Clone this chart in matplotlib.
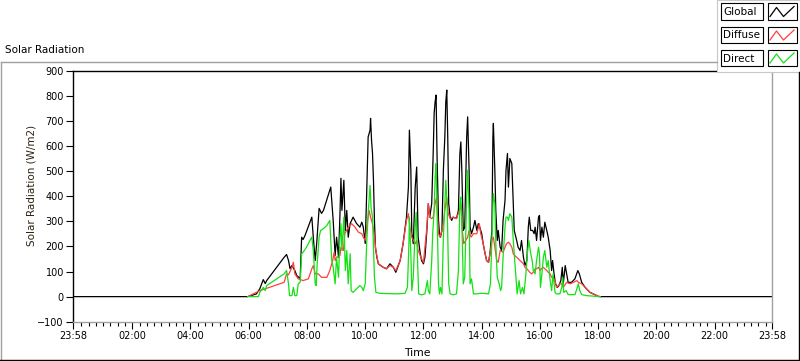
"""
Solar radiation day plot (Global / Diffuse / Direct), LabVIEW-chart look.
Saves out.png at 800x361.
"""

import matplotlib
matplotlib.use("Agg")
import matplotlib.pyplot as plt
from matplotlib.lines import Line2D
from matplotlib.patches import Rectangle

# ── Figure ────────────────────────────────────────────────────────────────
W_PX, H_PX, DPI = 800, 361, 100
FONT = "DejaVu Sans"
FS_TICK = 7.0
FS_TEXT = 7.45
LABEL_COLOR = "#2b2212"

# ── Data: minutes after midnight, W/m2 ────────────────────────────────────
GLOBAL_MIN = [-2, 358, 376, 383, 390, 394, 397, 433, 438, 442, 445, 449, 455, 459,
              466, 469, 472, 476, 486, 490, 493, 497, 500, 505, 510, 514, 529, 531,
              534, 538, 541, 545, 548, 550, 552, 556, 559, 562, 565, 569, 575, 582,
              589, 593, 596, 600, 603, 606, 610, 611, 613, 615, 617, 619, 621, 624,
              627, 637, 644, 651, 658, 663, 672, 678, 685, 689, 691, 694, 696, 699,
              703, 706, 709, 713, 716, 720, 723, 727, 730, 733, 737, 740, 742, 744,
              746, 748, 751, 753, 755, 758, 761, 764, 766, 768, 770, 772, 775, 778,
              781, 788, 792, 795, 797, 799, 802, 805, 809, 811, 814, 816, 819, 823,
              826, 830, 833, 836, 840, 843, 847, 850, 854, 857, 861, 863, 864, 867,
              869, 872, 874, 878, 881, 884, 888, 890, 893, 895, 898, 902, 905, 907,
              912, 915, 919, 922, 926, 929, 933, 936, 938, 941, 945, 948, 950, 953,
              957, 959, 961, 964, 967, 970, 974, 977, 981, 984, 986, 989, 992, 996,
              999, 1003, 1006, 1008, 1012, 1015, 1018, 1025, 1032, 1038, 1041, 1046,
              1053, 1063, 1073, 1080, 1084, 1438]
GLOBAL_WM2 = [0, 0, 11, 32, 68, 52, 64, 157, 168, 144, 112, 124, 104, 84,
              72, 237, 228, 244, 297, 317, 237, 144, 212, 352, 332, 344, 437, 384,
              304, 164, 237, 157, 332, 472, 344, 464, 264, 344, 237, 292, 317, 292,
              277, 297, 277, 212, 412, 637, 664, 711, 624, 572, 464, 304, 197, 157,
              131, 117, 111, 131, 117, 97, 144, 211, 317, 437, 664, 504, 252, 211,
              437, 517, 237, 177, 144, 131, 157, 264, 371, 317, 372, 571, 731, 777,
              804, 557, 304, 251, 237, 264, 504, 637, 777, 824, 637, 371, 317, 304,
              317, 312, 344, 571, 617, 504, 264, 277, 637, 717, 504, 277, 251, 277,
              304, 264, 291, 277, 251, 211, 171, 144, 137, 171, 264, 637, 691, 504,
              344, 224, 264, 197, 184, 304, 384, 504, 571, 437, 551, 531, 371, 264,
              224, 197, 184, 224, 157, 124, 144, 277, 317, 264, 264, 251, 277, 224,
              317, 324, 224, 277, 237, 297, 264, 237, 184, 104, 144, 91, 51, 37,
              44, 64, 117, 51, 124, 91, 57, 57, 71, 104, 91, 57,
              37, 17, 8, 1, 0, 0]

DIFFUSE_MIN = [358, 383, 433, 438, 442, 449, 452, 455, 462, 472, 483, 490, 493, 497,
               503, 510, 521, 527, 533, 536, 538, 541, 548, 550, 555, 558, 565, 572,
               579, 586, 593, 596, 600, 603, 608, 611, 615, 619, 622, 627, 637, 644,
               651, 658, 663, 672, 678, 685, 689, 692, 696, 703, 706, 709, 716, 720,
               727, 730, 733, 737, 740, 744, 747, 751, 754, 758, 761, 764, 768, 771,
               775, 781, 788, 794, 797, 800, 803, 807, 811, 814, 818, 823, 830, 835,
               838, 843, 850, 854, 857, 861, 864, 867, 871, 874, 878, 884, 891, 895,
               898, 902, 905, 908, 912, 919, 926, 929, 933, 936, 939, 943, 946, 950,
               953, 957, 960, 963, 967, 970, 974, 977, 981, 984, 987, 991, 994, 998,
               1001, 1005, 1008, 1015, 1022, 1029, 1036, 1039, 1046, 1053, 1063, 1073,
               1080, 1084]
DIFFUSE_WM2 = [0, 24, 57, 91, 87, 117, 137, 91, 71, 64, 71, 111, 124, 91,
               91, 77, 77, 104, 144, 177, 144, 157, 164, 197, 184, 251, 277, 291,
               277, 257, 251, 237, 224, 277, 344, 317, 291, 237, 184, 131, 117, 111,
               124, 117, 104, 144, 211, 304, 331, 277, 237, 211, 224, 184, 151, 137,
               277, 371, 317, 311, 317, 371, 397, 251, 237, 264, 291, 344, 397, 331,
               311, 317, 311, 344, 371, 264, 211, 224, 237, 264, 237, 251, 251, 291,
               251, 211, 144, 137, 171, 224, 237, 197, 144, 137, 184, 177, 211, 217,
               211, 197, 171, 164, 157, 144, 131, 117, 111, 104, 97, 91, 97, 111,
               111, 117, 104, 111, 117, 111, 104, 97, 91, 77, 77, 64, 37, 44,
               51, 51, 37, 57, 51, 57, 64, 57, 51, 37, 17, 8,
               1, 0]

DIRECT_MIN = [358, 380, 383, 390, 394, 397, 433, 438, 442, 444, 449, 452, 455, 459,
              462, 466, 469, 472, 479, 486, 490, 493, 497, 499, 501, 505, 508, 514,
              521, 527, 531, 534, 538, 541, 545, 548, 550, 552, 556, 559, 562, 565,
              569, 571, 575, 582, 589, 593, 596, 600, 603, 606, 610, 612, 615, 617,
              619, 622, 630, 665, 682, 687, 690, 691, 694, 696, 699, 703, 705, 707,
              710, 716, 723, 728, 730, 733, 737, 739, 742, 744, 746, 748, 751, 753,
              755, 758, 761, 764, 766, 769, 772, 775, 781, 788, 792, 795, 797, 799,
              802, 805, 809, 811, 814, 816, 819, 823, 830, 836, 843, 854, 858, 861,
              864, 867, 869, 872, 876, 879, 881, 884, 888, 890, 893, 895, 898, 902,
              905, 908, 911, 913, 917, 920, 924, 927, 931, 934, 937, 941, 944, 946,
              950, 953, 957, 959, 961, 964, 967, 970, 974, 977, 981, 984, 987, 991,
              994, 1001, 1005, 1007, 1009, 1014, 1018, 1032, 1036, 1039, 1042, 1046,
              1056, 1077, 1084]
DIRECT_WM2 = [0, 0, 17, 37, 24, 44, 91, 104, 51, 4, 4, 37, 4, 4,
              51, 57, 171, 177, 197, 224, 237, 184, 51, 44, 131, 237, 264, 271,
              284, 304, 144, 117, 51, 157, 77, 237, 291, 184, 317, 104, 184, 51,
              171, 24, 17, 31, 44, 37, 24, 51, 211, 331, 444, 357, 317, 197,
              77, 17, 13, 11, 13, 37, 211, 317, 171, 24, 77, 277, 337, 197,
              11, 7, 11, 64, 24, 11, 144, 251, 344, 477, 531, 344, 51, 11,
              37, 11, 237, 371, 464, 344, 51, 11, 7, 11, 104, 371, 397, 304,
              51, 77, 397, 504, 344, 51, 71, 11, 11, 13, 13, 11, 51, 237,
              411, 371, 211, 77, 51, 24, 37, 157, 277, 317, 317, 304, 331, 317,
              224, 144, 64, 11, 64, 11, 37, 11, 91, 171, 224, 171, 144, 104,
              91, 144, 197, 171, 37, 91, 157, 184, 117, 144, 64, 24, 91, 17,
              11, 11, 37, 77, 17, 24, 8, 8, 31, 51, 24, 8,
              4, 1, 0]

TICK_MIN    = [-2, 120, 240, 360, 480, 600, 720, 840, 960, 1080, 1200, 1320, 1438]
TICK_LABELS = ["23:58", "02:00", "04:00", "06:00", "08:00", "10:00", "12:00",
               "14:00", "16:00", "18:00", "20:00", "22:00", "23:58"]
Y_TICKS     = [-100, 0, 100, 200, 300, 400, 500, 600, 700, 800, 900]

SERIES = ["Global", "Diffuse", "Direct"]
COLORS = ["#000000", "#ff4040", "#14e014"]


def px(x, y):
    """pixel position (top-left origin) -> figure fraction"""
    return x / W_PX, 1 - y / H_PX


def fig_line(fig, xs, ys, color, lw=1.0):
    fx = [x / W_PX for x in xs]
    fy = [1 - y / H_PX for y in ys]
    fig.add_artist(Line2D(fx, fy, color=color, lw=lw, transform=fig.transFigure))


def main():
    plt.rcParams["font.family"] = [FONT]
    fig = plt.figure(figsize=(W_PX / DPI, H_PX / DPI), dpi=DPI)
    fig.patch.set_facecolor("white")

    # ── outer frame ──────────────────────────────────────────────────────
    fig_line(fig, [0.5, 717], [62, 62], "#a0a0a0")
    fig_line(fig, [0.5, 0.5], [62, 361], "#a0a0a0")
    fig_line(fig, [0, 800], [360, 360], "#000000")
    fig_line(fig, [799, 799], [72, 361], "#000000")
    fig.text(*px(5, 50), "Solar Radiation", fontsize=FS_TEXT, ha="left", va="center")

    # ── plot area ────────────────────────────────────────────────────────
    x0, x1, y0, y1 = 73, 772, 71, 321.7
    ax = fig.add_axes([x0 / W_PX, 1 - y1 / H_PX, (x1 - x0) / W_PX, (y1 - y0) / H_PX])
    ax.plot(GLOBAL_MIN, GLOBAL_WM2, color=COLORS[0], lw=0.9)
    ax.plot(DIFFUSE_MIN, DIFFUSE_WM2, color=COLORS[1], lw=0.9)
    ax.plot(DIRECT_MIN, DIRECT_WM2, color=COLORS[2], lw=0.9)

    ax.set_xlim(-2, 1438)
    ax.set_ylim(-100, 900)
    ax.set_xticks(TICK_MIN)
    ax.set_xticklabels(TICK_LABELS)
    ax.set_xticks(list(range(15, 1438, 15)), minor=True)
    ax.set_yticks(Y_TICKS)
    ax.tick_params(axis="both", labelsize=FS_TICK, colors="black", width=0.8)
    ax.tick_params(axis="x", which="major", length=5, pad=2)
    ax.tick_params(axis="x", which="minor", length=3, width=0.8)
    ax.tick_params(axis="y", length=5, pad=1.5)
    for side, col in (("left", "black"), ("top", "black"),
                      ("right", "#a0a0a0"), ("bottom", "#a0a0a0")):
        ax.spines[side].set_color(col)
        ax.spines[side].set_linewidth(1.0)

    fig.text(*px(31.7, 185), "Solar Radiation (W/m2)", fontsize=FS_TEXT, rotation=90,
             ha="center", va="center", color=LABEL_COLOR)
    fig.text(*px(417.5, 353), "Time", fontsize=FS_TEXT + 0.4, ha="center", va="center")

    # ── legend panel ─────────────────────────────────────────────────────
    fig.add_artist(Rectangle(px(717, 72), 83 / W_PX, 72 / H_PX, facecolor="white",
                             edgecolor="#c8c8c8", lw=0.8, transform=fig.transFigure))
    rows = [3.5, 27, 50]
    for name, col, top in zip(SERIES, COLORS, rows):
        bot = top + 16
        fig.add_artist(Rectangle(px(721, bot), 42 / W_PX, 16 / H_PX, facecolor="white",
                                 edgecolor="black", lw=0.8, transform=fig.transFigure))
        fig.add_artist(Rectangle(px(768, bot), 29 / W_PX, 16 / H_PX, facecolor="white",
                                 edgecolor="black", lw=0.8, transform=fig.transFigure))
        fig.text(*px(723.5, top + 8.5), name, fontsize=FS_TEXT, ha="left", va="center")
        fig_line(fig, [770, 776.5, 783.5, 794], [top + 13, top + 4, top + 13, top + 3],
                 col, lw=0.9)

    fig.savefig("out.png", dpi=DPI, facecolor="white")


if __name__ == "__main__":
    main()
